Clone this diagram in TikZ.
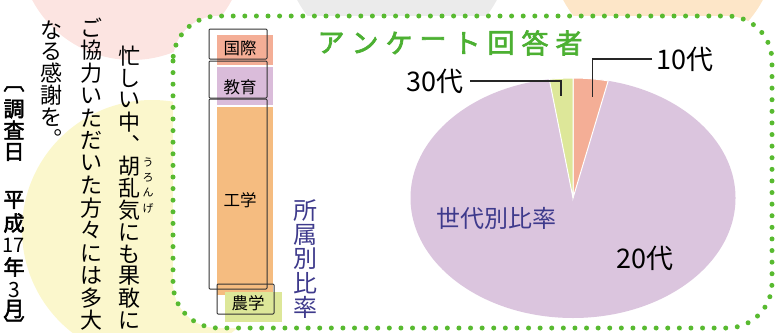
\documentclass[tikz,border=0pt]{standalone}
\usepackage{fontspec}
\newfontfamily\jp{Noto Sans CJK JP}
\newfontfamily\jpbf[FakeBold=2.5]{Noto Sans CJK JP}
\usetikzlibrary{positioning}

\definecolor{dotgreen}{RGB}{88,186,48}
\definecolor{titlegreen}{RGB}{76,176,50}
\definecolor{bgpink}{RGB}{252,228,225}
\definecolor{bggray}{RGB}{235,235,235}
\definecolor{bgpeach}{RGB}{253,230,200}
\definecolor{bgyellow}{RGB}{251,247,204}
\definecolor{kokusai}{RGB}{244,174,150}
\definecolor{kyoiku}{RGB}{218,188,218}
\definecolor{kogaku}{RGB}{245,188,128}
\definecolor{nogaku}{RGB}{221,231,153}
\definecolor{labelblue}{RGB}{62,58,140}
\definecolor{piepurple}{RGB}{219,197,222}

\begin{document}
\begin{tikzpicture}[x=1pt, y=-1pt,
	tate/.style = { inner sep=0pt, yshift=-3pt,
			font=\jp\fontsize{22}{22}\selectfont },
	ruby/.style = { inner sep=0pt, font=\jp\fontsize{11}{11}\selectfont },
	tatebold/.style = { inner sep=0pt, yshift=-3pt,
			font=\jpbf\fontsize{21}{21}\selectfont },
	barlabel/.style = { inner sep=0pt, font=\jp\fontsize{16.5}{16.5}\selectfont },
	barframe/.style = { draw=black!80, line width=1pt, rounded corners=1pt,
			inner sep=0pt },
	bluelabel/.style = { text=labelblue, inner sep=0pt,
			font=\jp\fontsize{24}{24}\selectfont },
	agelabel/.style = { inner sep=0pt, font=\jp\fontsize{27}{27}\selectfont },
	titlechar/.style = { text=titlegreen, inner sep=0pt,
			font=\jpbf\fontsize{27}{27}\selectfont },
	leader/.style = { draw=black!85, line width=1.2pt }]

  \useasboundingbox (0,0) rectangle (775,332);
  \begin{scope}
    \clip (0,0) rectangle (775,332);
    \fill[bgpink] (132,-53) circle[radius=113];
    \fill[bggray] (397,-53) circle[radius=113];
    \fill[bgpeach] (663,-53) circle[radius=113];
    \fill[bgyellow] (152,230) circle[radius=130];
  \end{scope}
  \draw[draw=dotgreen, fill=white, line width=5pt, line cap=round,
	dash pattern=on 0pt off 11.6pt, rounded corners=45pt]
	(173,16) rectangle (772,328);

  % left text
  \foreach \ch [count=\i from 0] in {忙,し,い,中,︑,胡,乱,気,に,も,果,敢,に}
    \node[tate] (cola\i) at (129,53+22*\i) {\ch};
  \foreach \ch [count=\i from 0] in {う,ろ,ん,げ}
    \node[ruby] (ruby\i) at (148,162+15.3*\i) {\ch};
  \foreach \ch [count=\i from 0] in {ご,協,力,い,た,だ,い,た,方,々,に,は,多,大}
    \node[tate] (colb\i) at (91,25+22.5*\i) {\ch};
  \foreach \ch [count=\i from 0] in {な,る,感,謝,を,︒}
    \node[tate] (colc\i) at (51,27+21.7*\i) {\ch};
  \foreach \y/\ch [count=\i] in {86/︹,106/調,127/査,149/日,197/平,220/成,
	264/年,306/月,322/︺}
    \node[tatebold] (cold\i) at (14,\y) {\ch};
  \node[tate, font=\jp\fontsize{20}{20}\selectfont] (year) at (14,242) {17};
  \node[tate, font=\jp\fontsize{21}{21}\selectfont] (month) at (14,287) {3};

  % bars
  \fill[kokusai] (217,35) rectangle (273,65);
  \fill[kyoiku] (217,67) rectangle (273,105);
  \fill[kogaku] (217,107) rectangle (273,295);
  \fill[nogaku] (225,292) rectangle (282,322);
  \node[barframe, minimum width=58pt, minimum height=30pt] (fkokusai) at (238,44) {};
  \node[barframe, minimum width=58pt, minimum height=37pt] (fkyoiku) at (238,79.5) {};
  \node[barframe, minimum width=58pt, minimum height=190pt] (fkogaku) at (238,194) {};
  \node[barframe, minimum width=57pt, minimum height=30pt] (fnogaku) at (245.5,299) {};
  \node[barlabel] (lkokusai) at (240,48) {国際};
  \node[barlabel] (lkyoiku) at (240,87) {教育};
  \node[barlabel] (lkogaku) at (240,200) {工学};
  \node[barlabel] (lnogaku) at (248,303) {農学};
  \foreach \ch [count=\i from 0] in {所,属,別,比,率}
    \node[bluelabel] (dept\i) at (305,211+24*\i) {\ch};

  % title
  \foreach \ch [count=\i from 0] in {ア,ン,ケ,ー,ト,回,答,者}
    \node[titlechar] (title\i) at (331+34*\i,43) {\ch};

  % pie
  \begin{scope}[shift={(573,198)}, x=162.5pt, y=120pt]
    \fill[piepurple] (0,0) circle[radius=1];
    \filldraw[fill=kokusai, draw=white, line width=1pt]
	(0,0) -- (77.5:1) arc[start angle=77.5, end angle=90, radius=1] -- cycle;
    \filldraw[fill=nogaku, draw=white, line width=1pt]
	(0,0) -- (90:1) arc[start angle=90, end angle=98.4, radius=1] -- cycle;
    \coordinate (p10) at (82:0.85);
    \coordinate (p30) at (95:0.85);
  \end{scope}
  \node[agelabel, anchor=west] (age10) at (656,59) {10代};
  \node[agelabel, anchor=east] (age30) at (464,81) {30代};
  \node[agelabel] (age20) at (645,258) {20代};
  \node[bluelabel] (agetitle) at (496,218) {世代別比率};
  \draw[leader] (age10.west) ++(-4,0) -| (p10);
  \draw[leader] (age30.east) ++(6,0) -| (p30);
\end{tikzpicture}
\end{document}
